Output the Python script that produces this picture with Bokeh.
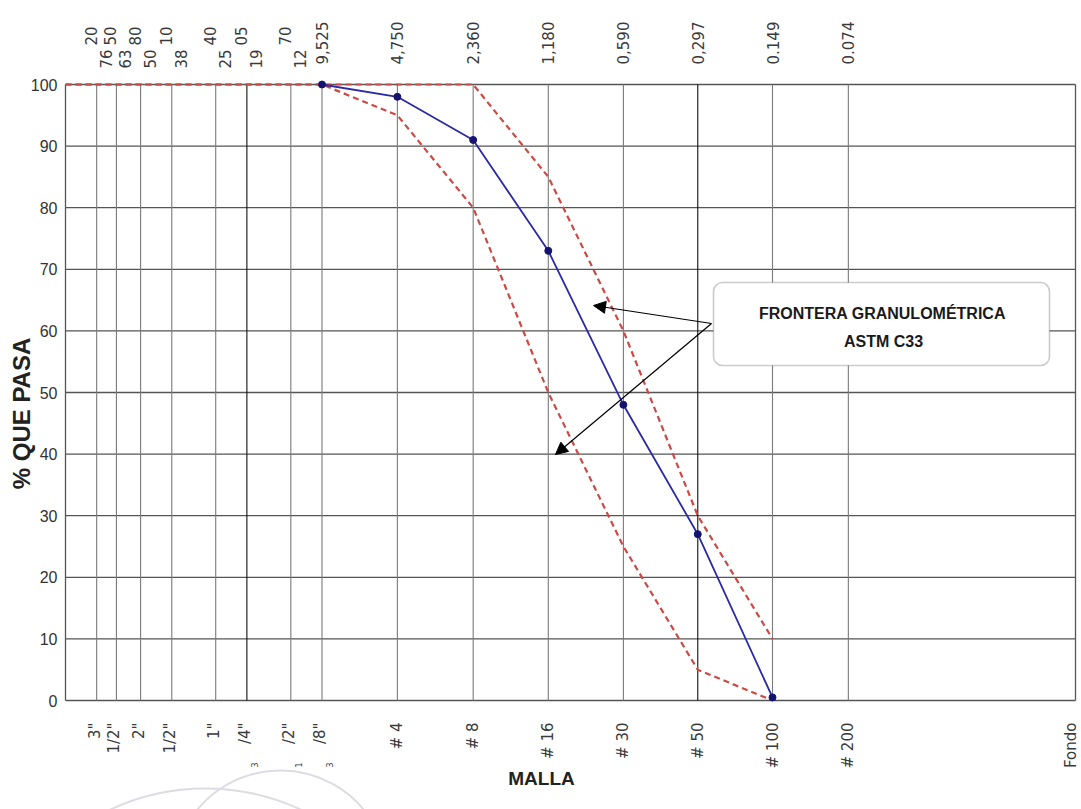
import math
from bokeh.plotting import figure
from bokeh.models import Range1d, Arrow, NormalHead, BoxAnnotation
from bokeh.core.properties import value
from bokeh.embed import file_html
from bokeh.resources import INLINE

# ---------------- data ----------------
sieve_sizes = [76.2, 63.5, 50.8, 38.1, 25.4, 19.05, 12.7, 9.525, 4.75, 2.36, 1.18, 0.59, 0.297, 0.149, 0.074]
pan_size = 0.0095
y_ticks = [0, 10, 20, 30, 40, 50, 60, 70, 80, 90, 100]
y_tick_labels = ["0", "10", "20", "30", "40", "50", "60", "70", "80", "90", "100"]

# sample gradation (% passing)
sample_sizes = [9.525, 4.75, 2.36, 1.18, 0.59, 0.297, 0.149]
sample_pass = [100, 98, 91, 73, 48, 27, 0.5]

# ASTM C33 limits
limit_sizes = [101.6, 76.2, 63.5, 50.8, 38.1, 25.4, 19.05, 12.7, 9.525, 4.75, 2.36, 1.18, 0.59, 0.297, 0.149]
limit_upper = [100, 100, 100, 100, 100, 100, 100, 100, 100, 100, 100, 85, 60, 30, 10]
limit_lower = [100, 100, 100, 100, 100, 100, 100, 100, 100, 95, 80, 50, 25, 5, 0]

# top labels (opening in mm), as they appear
mm_main_sizes = [9.525, 4.75, 2.36, 1.18, 0.59, 0.297, 0.149, 0.074]
mm_main_text = ["9,525", "4,750", "2,360", "1,180", "0,590", "0,297", "0.149", "0.074"]
mm_frag_sizes = [76.2, 63.5, 50.8, 38.1, 25.4, 19.05, 12.7]
mm_frag_hi = ["20", "50", "80", "10", "40", "05", "70"]
mm_frag_lo = ["76", "63", "50", "38", "25", "19", "12"]

# bottom labels (sieve names), as they appear
inch_sizes = [76.2, 63.5, 50.8, 38.1, 25.4, 19.05, 12.7, 9.525]
inch_text = ['3"', '1/2"', '2"', '1/2"', '1"', '/4"', '/2"', '/8"']
inch_small_sizes = [19.05, 12.7, 9.525]
inch_small_text = ["3", "1", "3"]
mesh_sizes = [4.75, 2.36, 1.18, 0.59, 0.297, 0.149, 0.074, pan_size]
mesh_text = ["# 4", "# 8", "# 16", "# 30", "# 50", "# 100", "# 200", "Fondo"]

# ---------------- pixel helpers (layout) ----------------
W, H = 1081, 809
LEFT_PX, RIGHT_PX, TOP_PX, BOTTOM_PX = 65, 1075, 84, 700
PX_PER_DECADE = 249.5
PX_PER_UNIT = (BOTTOM_PX - TOP_PX) / 100.0
X_LEFT = 101.6


def xd(px):
    return X_LEFT * 10 ** (-(px - LEFT_PX) / PX_PER_DECADE)


def yd(py):
    return 100 - (py - TOP_PX) / PX_PER_UNIT


# the frame covers the whole canvas so that every text can be drawn as a glyph
p = figure(width=W, height=H, x_axis_type="log",
           x_range=Range1d(xd(0), xd(W)), y_range=Range1d(yd(H), yd(0)),
           output_backend="svg", toolbar_location=None,
           x_axis_location=None, y_axis_location=None,
           min_border=0, min_border_left=0, min_border_right=0,
           min_border_top=0, min_border_bottom=0,
           background_fill_color="white", border_fill_color="white",
           outline_line_color=None)
p.grid.visible = False

# ---------------- faint watermark arcs ----------------
p.arc(x=[xd(205), xd(280)], y=[yd(1013), yd(878)], radius=[225, 108], radius_units="screen",
      start_angle=[math.radians(60), math.radians(35)], end_angle=[math.radians(120), math.radians(145)],
      line_color="#dcdde4", line_width=2)

# ---------------- grid ----------------
x_edge_l, x_edge_r = xd(LEFT_PX), xd(RIGHT_PX)
p.segment(x0=[x_edge_l] * len(y_ticks), x1=[x_edge_r] * len(y_ticks), y0=y_ticks, y1=y_ticks,
          line_color="#555555", line_width=1.3)
v_colors = ["#111111" if s in (19.05, 0.297) else "#7a7a7a" for s in sieve_sizes]
p.segment(x0=sieve_sizes, x1=sieve_sizes, y0=[0] * len(sieve_sizes), y1=[100] * len(sieve_sizes),
          line_color=v_colors, line_width=1.1)
p.segment(x0=[x_edge_l, x_edge_r], x1=[x_edge_l, x_edge_r], y0=[0, 0], y1=[100, 100],
          line_color="#555555", line_width=1.3)

# ---------------- series ----------------
red = "#cc4a46"
p.line(limit_sizes, limit_upper, line_color=red, line_width=2.2, line_dash="6 4")
p.line(limit_sizes, limit_lower, line_color=red, line_width=2.2, line_dash="6 4")
p.line(sample_sizes, sample_pass, line_color="#2a2aa8", line_width=1.8)
p.scatter(sample_sizes, sample_pass, size=7, fill_color="#14146e", line_color="#14146e")

# ---------------- y tick labels & titles ----------------
p.text(x=[xd(57)] * len(y_ticks), y=y_ticks, text=y_tick_labels,
       text_align="right", text_baseline="middle", text_font=value("Liberation Sans"),
       text_font_size="16px", text_color="#333333")
p.text(x=[xd(21)], y=[yd(413)], text=["% QUE PASA"], angle=math.pi / 2,
       text_align="center", text_baseline="middle", text_font=value("Liberation Sans"),
       text_font_style="bold", text_font_size="24px", text_color="#222222")
p.text(x=[xd(541)], y=[yd(778)], text=["MALLA"],
       text_align="center", text_baseline="middle", text_font=value("Liberation Sans"),
       text_font_style="bold", text_font_size="19px", text_color="#222222")

# ---------------- top labels ----------------
lab_font = value("DejaVu Sans")
lab_kw = dict(angle=math.pi / 2, text_baseline="middle", text_font=lab_font,
              text_font_size="15px", text_color="#3a3a3a")
p.text(x=mm_main_sizes, y=[yd(64)] * len(mm_main_sizes), text=mm_main_text,
       text_align="left", **lab_kw)
p.text(x=mm_frag_sizes, y=[yd(45)] * len(mm_frag_sizes), text=mm_frag_hi,
       x_offset=-6, text_align="left", **lab_kw)
p.text(x=mm_frag_sizes, y=[yd(68)] * len(mm_frag_sizes), text=mm_frag_lo,
       x_offset=9, text_align="left", **lab_kw)

# ---------------- bottom labels ----------------
p.text(x=inch_sizes, y=[yd(722)] * len(inch_sizes), text=inch_text,
       x_offset=-2, text_align="right", **lab_kw)
p.text(x=inch_small_sizes, y=[yd(762)] * len(inch_small_sizes), text=inch_small_text,
       x_offset=8, text_align="right", angle=math.pi / 2, text_baseline="middle",
       text_font=lab_font, text_font_size="8px", text_color="#3a3a3a")
p.text(x=mesh_sizes, y=[yd(722)] * len(mesh_sizes), text=mesh_text,
       text_align="right", **lab_kw)

# ---------------- callout ----------------
p.add_layout(Arrow(end=NormalHead(size=12, fill_color="black", line_color="black"),
                   x_start=xd(711), y_start=yd(323), x_end=xd(593), y_end=yd(305),
                   line_color="black", line_width=1.2))
p.add_layout(Arrow(end=NormalHead(size=12, fill_color="black", line_color="black"),
                   x_start=xd(711), y_start=yd(323), x_end=xd(555), y_end=yd(454),
                   line_color="black", line_width=1.2))
p.add_layout(BoxAnnotation(left=xd(713), right=xd(1049), top=yd(282), bottom=yd(365),
                           fill_color="white", fill_alpha=1.0, line_color="#555555",
                           line_width=1.6, border_radius=9))
box_kw = dict(text_align="center", text_baseline="middle", text_font=value("Liberation Sans"),
              text_font_style="bold", text_font_size="16px", text_color="#1a1a1a", level="overlay")
p.text(x=[xd(882)], y=[yd(313)], text=["FRONTERA GRANULOMÉTRICA"], **box_kw)
p.text(x=[xd(883)], y=[yd(341)], text=["ASTM C33"], **box_kw)

open("out.html", "w").write(file_html(p, INLINE))
